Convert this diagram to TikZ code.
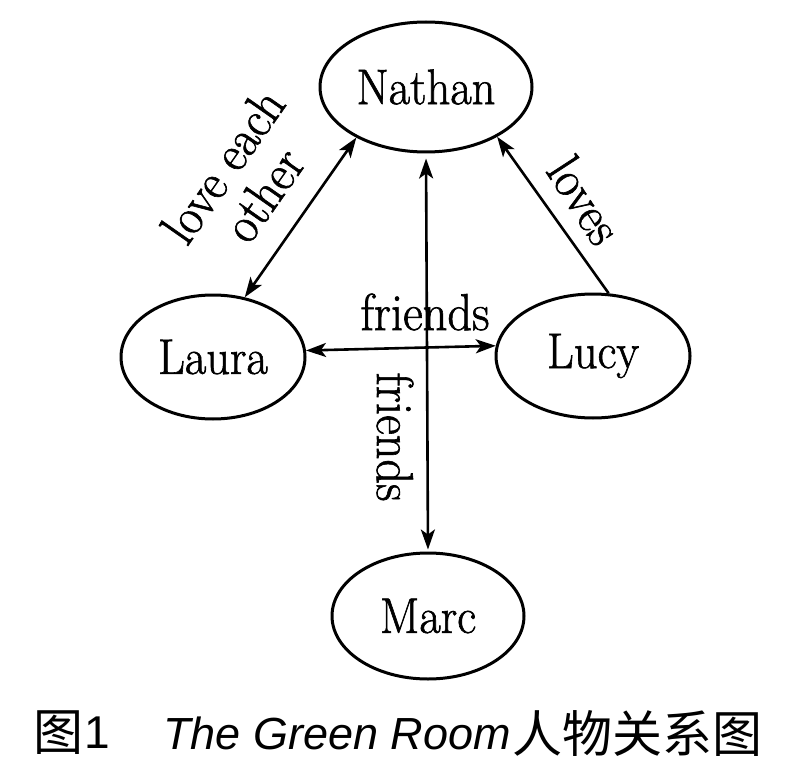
\documentclass[tikz,border=0pt]{standalone}
\usepackage{fontspec}
\setmainfont[FakeStretch=0.93,FakeBold=1.2]{Latin Modern Roman}
\newfontfamily\cjk{Noto Sans CJK SC}
\newfontfamily\capsans{Liberation Sans}
\usetikzlibrary{shapes.geometric,arrows.meta}
\begin{document}
\begin{tikzpicture}[x=1pt,y=-1pt,
  >={Stealth[length=20pt,width=14pt,inset=5pt]},
  person/.style={draw,line width=3pt,ellipse,inner sep=0pt,font=\fontsize{50}{56}\selectfont},
  rel/.style={line width=2.6pt},
  lbl/.style={inner sep=0pt,font=\fontsize{52}{50}\selectfont,align=center},
  capcjk/.style={inner sep=0pt,font=\cjk\fontsize{50}{55}\selectfont},
  capnum/.style={inner sep=0pt,font=\capsans\fontsize{46}{50}\selectfont},
  caplat/.style={inner sep=0pt,font=\capsans\itshape\fontsize{45}{50}\selectfont}]
\useasboundingbox[fill=white] (0,0) rectangle (800,778);
\node[person,minimum width=212pt,minimum height=130pt] (nathan) at (426,87) {Nathan};
\node[person,minimum width=184pt,minimum height=124pt] (laura) at (213,357) {Laura};
\node[person,minimum width=194pt,minimum height=124pt] (lucy) at (593,356) {Lucy};
\node[person,minimum width=192pt,minimum height=126pt] (marc) at (428,616) {Marc};
% connectors
\draw[rel,<->] (laura.62) -- (nathan.216);
\draw[rel,->] (lucy.76) -- (nathan.325);
\draw[rel,<->] (laura.4) -- (lucy.174);
\draw[rel,<->,shorten <=5pt,shorten >=2pt] (nathan.south) -- (marc.north);
% labels
\node[lbl,rotate=55] (l1) at (243,180) {love each\\other};
\node[lbl,rotate=-57] (l2) at (585,200) {loves};
\node[lbl] (l3) at (425,312) {friends};
\node[lbl,rotate=-90] (l4) at (395,437) {friends};
% caption
\node[capcjk,anchor=west] (c1) at (33,733) {图};
\node[capnum,anchor=west] (c2) at (84,733) {1};
\node[caplat,anchor=west] (c3) at (163,733) {The Green Room};
\node[capcjk,anchor=west] (c4) at (512,733) {人物关系图};
\end{tikzpicture}
\end{document}
